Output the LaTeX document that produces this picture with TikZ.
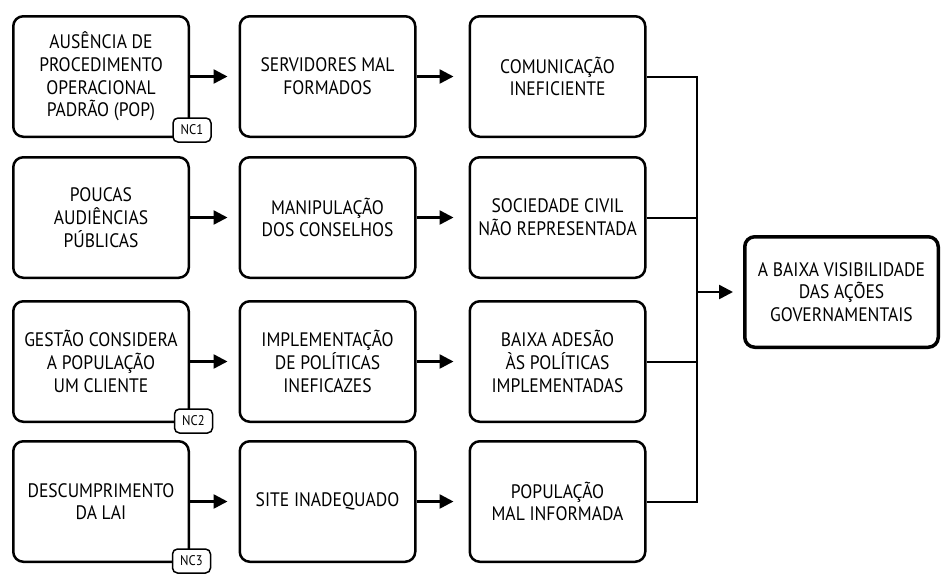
\documentclass[tikz,border=0pt]{standalone}
\usepackage{fontspec}
\setmainfont[FakeStretch=0.9]{PT Sans}
\usetikzlibrary{arrows.meta}

\begin{document}
\begin{tikzpicture}[x=1pt, y=-1pt,
        every node/.style={align=center, font=\fontsize{19.5}{22.7}\selectfont},
        box/.style={rectangle, draw, rounded corners=10pt, line width=2.5pt, minimum width=175.5pt, minimum height=120.5pt, inner sep=2pt},
        final/.style={box, line width=3.5pt, minimum width=193.5pt, minimum height=110.5pt},
        badge/.style={rectangle, draw, fill=white, rounded corners=5pt, line width=1.5pt, minimum width=38pt, minimum height=24pt, inner sep=1pt, font=\fontsize{14}{15}\selectfont},
        arr/.style={line width=2.5pt, -{Triangle[length=14pt, width=14pt]}},
        bus/.style={line width=2pt}]
    \useasboundingbox (0,0) rectangle (941,574);
    % causas
    \node[box] (c1r1) at (101,76.5) {AUSÊNCIA DE\\PROCEDIMENTO\\OPERACIONAL\\PADRÃO (POP)};
    \node[box] (c1r2) at (101,217.5) {POUCAS\\AUDIÊNCIAS\\PÚBLICAS};
    \node[box] (c1r3) at (101,361.5) {GESTÃO CONSIDERA\\A POPULAÇÃO\\UM CLIENTE};
    \node[box] (c1r4) at (101,501.5) {DESCUMPRIMENTO\\DA LAI};
    % consequencias
    \node[box] (c2r1) at (327.5,76.5) {SERVIDORES MAL\\FORMADOS};
    \node[box] (c2r2) at (327.5,217.5) {MANIPULAÇÃO\\DOS CONSELHOS};
    \node[box] (c2r3) at (327.5,361.5) {IMPLEMENTAÇÃO\\DE POLÍTICAS\\INEFICAZES};
    \node[box] (c2r4) at (327.5,501.5) {SITE INADEQUADO};
    % efeitos
    \node[box] (c3r1) at (557.5,76.5) {COMUNICAÇÃO\\INEFICIENTE};
    \node[box] (c3r2) at (557.5,217.5) {SOCIEDADE CIVIL\\NÃO REPRESENTADA};
    \node[box] (c3r3) at (557.5,361.5) {BAIXA ADESÃO\\ÀS POLÍTICAS\\IMPLEMENTADAS};
    \node[box] (c3r4) at (557.5,501.5) {POPULAÇÃO\\MAL INFORMADA};
    \node[final] (final) at (841.5,292) {A BAIXA VISIBILIDADE\\DAS AÇÕES\\GOVERNAMENTAIS};
    % selos
    \node[badge] (nc1) at ([xshift=2pt,yshift=8pt]c1r1.south east) {NC1};
    \node[badge] (nc2) at ([xshift=3.5pt,yshift=2pt]c1r3.south east) {NC2};
    \node[badge] (nc3) at ([xshift=1.5pt,yshift=2pt]c1r4.south east) {NC3};
    % setas
    \foreach \r in {1,2,3,4} {
        \draw[arr, shorten >=11pt] (c1r\r.east) -- (c2r\r.west);
        \draw[arr, shorten >=15pt] (c2r\r.east) -- (c3r\r.west);
    }
    \coordinate (junc) at (697,292);
    \draw[bus] (c3r1.east) -| (junc);
    \draw[bus] (c3r4.east) -| (junc);
    \draw[bus] (c3r2.east) -- (c3r2.east -| junc);
    \draw[bus] (c3r3.east) -- (c3r3.east -| junc);
    \draw[arr, shorten >=10pt] (junc) -- (final.west);
\end{tikzpicture}
\end{document}
